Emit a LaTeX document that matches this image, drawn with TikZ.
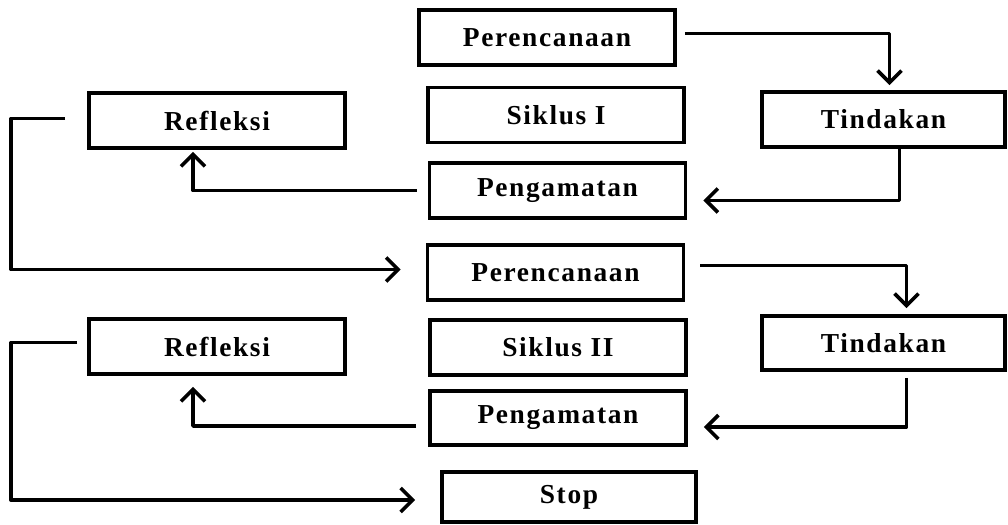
\documentclass[tikz,border=0pt]{standalone}
\usepackage{fontspec}
\setmainfont{Liberation Serif}[LetterSpace=6]
\usetikzlibrary{calc,arrows.meta}
\begin{document}
\begin{tikzpicture}[x=1bp,y=-1bp,
  box/.style={draw,line width=3.8bp,minimum width=256bp,minimum height=55bp,inner sep=0pt,
    font=\fontsize{27.5}{30}\selectfont\bfseries},
  conn/.style={line width=3.6bp,line join=round,-{Straight Barb[length=12bp,width=24bp,line width=3.6bp]}}]
\useasboundingbox (0,0) rectangle (1008,525);
\node[box] (per1) at (547,37.5) {Perencanaan};
\node[box] (sik1) at (556,115) {Siklus I};
\node[box] (pen1) at (557.5,190.5) {Pengamatan};
\node[box,minimum width=243bp] (tin1) at (883.5,119.5) {Tindakan};
\node[box] (ref1) at (217,120.5) {Refleksi};
\node[box] (per2) at (555.5,272.5) {Perencanaan};
\node[box] (sik2) at (558,347.5) {Siklus II};
\node[box,minimum height=54bp] (pen2) at (558,418) {Pengamatan};
\node[box,minimum width=243bp,minimum height=54bp] (tin2) at (883.5,343) {Tindakan};
\node[box] (ref2) at (217,346.5) {Refleksi};
\node[box,minimum width=254bp,minimum height=50bp] (stop) at (569,497) {Stop};
\draw[conn] ($(per1.east)+(8,-4)$) -| ($(tin1.north)+(6,-5)$);
\draw[conn] ($(tin1.south)+(16,0)$) |- ($(pen1.east)+(16,10)$);
\draw[conn] ($(pen1.west)+(-11,0)$) -| ($(ref1.south)+(-24,2)$);
\draw[conn] ($(ref1.west)+(-22,-2)$) -- ++(-54,0) |- ($(per2.west)+(-25,-3)$);
\draw[conn] ($(per2.east)+(15,-7)$) -| ($(tin2.north)+(23,-6)$);
\draw[conn] ($(tin2.south)+(23,6)$) |- ($(pen2.east)+(16,9)$);
\draw[conn] ($(pen2.west)+(-12,8)$) -| ($(ref2.south)+(-24,11)$);
\draw[conn] ($(ref2.west)+(-10,-4)$) -- ++(-66,0) |- ($(stop.west)+(-25,3)$);
\end{tikzpicture}
\end{document}
